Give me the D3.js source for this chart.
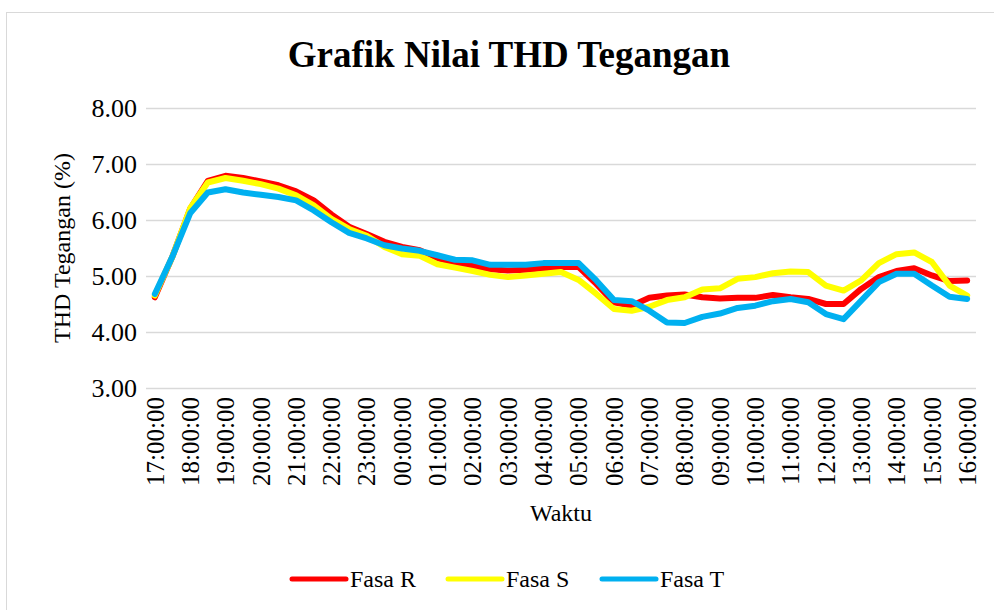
<!DOCTYPE html>
<html>
<head>
<meta charset="utf-8">
<script src="https://cdn.jsdelivr.net/npm/d3@7"></script>
<style>
body { margin:0; background:#fff; }
svg text { font-family: "Liberation Serif", "Times New Roman", serif; fill:#000; }
</style>
</head>
<body>
<svg id="chart" width="994" height="610"></svg>
<script>
var times = ["17:00:00","17:30:00","18:00:00","18:30:00","19:00:00","19:30:00","20:00:00","20:30:00",
	"21:00:00","21:30:00","22:00:00","22:30:00","23:00:00","23:30:00","00:00:00","00:30:00",
	"01:00:00","01:30:00","02:00:00","02:30:00","03:00:00","03:30:00","04:00:00","04:30:00",
	"05:00:00","05:30:00","06:00:00","06:30:00","07:00:00","07:30:00","08:00:00","08:30:00",
	"09:00:00","09:30:00","10:00:00","10:30:00","11:00:00","11:30:00","12:00:00","12:30:00",
	"13:00:00","13:30:00","14:00:00","14:30:00","15:00:00","15:30:00","16:00:00"];

var tickLabels = ["17:00:00","18:00:00","19:00:00","20:00:00","21:00:00","22:00:00","23:00:00","00:00:00",
	"01:00:00","02:00:00","03:00:00","04:00:00","05:00:00","06:00:00","07:00:00","08:00:00",
	"09:00:00","10:00:00","11:00:00","12:00:00","13:00:00","14:00:00","15:00:00","16:00:00"];

var yTicks = [3, 4, 5, 6, 7, 8];

var fasaR = [4.62,5.35,6.20,6.70,6.79,6.75,6.69,6.62,6.51,6.35,6.10,5.88,5.75,5.61,5.52,5.46,
	5.32,5.23,5.18,5.12,5.10,5.11,5.14,5.16,5.16,4.86,4.53,4.47,4.61,4.65,4.67,4.62,
	4.60,4.61,4.61,4.66,4.62,4.59,4.50,4.50,4.77,4.98,5.09,5.14,5.01,4.91,4.92];

var fasaS = [4.65,5.35,6.21,6.67,6.75,6.70,6.64,6.56,6.44,6.26,6.02,5.84,5.72,5.52,5.39,5.36,
	5.21,5.15,5.09,5.02,4.98,5.01,5.04,5.07,4.93,4.68,4.41,4.38,4.45,4.57,4.62,4.76,
	4.78,4.95,4.98,5.05,5.08,5.07,4.83,4.74,4.92,5.23,5.39,5.42,5.25,4.83,4.65];

var fasaT = [4.68,5.35,6.12,6.49,6.55,6.49,6.45,6.41,6.35,6.17,5.96,5.77,5.67,5.55,5.49,5.45,
	5.37,5.29,5.28,5.20,5.20,5.20,5.23,5.23,5.23,4.92,4.57,4.55,4.38,4.17,4.16,4.27,
	4.33,4.43,4.47,4.55,4.59,4.53,4.32,4.23,4.56,4.89,5.04,5.04,4.83,4.63,4.59];

var seriesNames = ["Fasa R","Fasa S","Fasa T"];
var seriesColors = ["#FF0000","#FFFF00","#00B0F0"];
var seriesData = [fasaR, fasaS, fasaT];

var width = 994, height = 610;
var plot = {left:146, right:976, top:108, bottom:388};
var serif = "'Liberation Serif', 'Times New Roman', serif";

var svg = d3.select("#chart");

// chart border
svg.append("rect")
	.attr("x",6.5)
	.attr("y",12.5)
	.attr("width",1000)
	.attr("height",620)
	.style("fill","#FFF")
	.style("stroke","#D9D9D9")
	.style("stroke-width",1);

var xScale = d3.scaleBand()
	.domain(times)
	.range([plot.left, plot.right]);

var yScale = d3.scaleLinear()
	.domain([3, 8])
	.range([plot.bottom, plot.top]);

function cx(t) { return xScale(t) + xScale.bandwidth() / 2; }

// gridlines
svg.append("g")
	.selectAll("line")
	.data(yTicks)
	.enter()
	.append("line")
	.attr("x1",plot.left)
	.attr("x2",plot.right)
	.attr("y1",function(d){ return Math.round(yScale(d)) + 0.5; })
	.attr("y2",function(d){ return Math.round(yScale(d)) + 0.5; })
	.style("stroke","#D9D9D9")
	.style("stroke-width",1.5);

// y labels
svg.append("g")
	.selectAll("text")
	.data(yTicks)
	.enter()
	.append("text")
	.attr("x",plot.left - 9)
	.attr("y",function(d){ return yScale(d); })
	.attr("dy","0.35em")
	.attr("text-anchor","end")
	.style("font-family",serif)
	.style("font-size","26px")
	.text(function(d){ return d.toFixed(2); });

// x labels
svg.append("g")
	.selectAll("text")
	.data(tickLabels)
	.enter()
	.append("text")
	.attr("transform",function(d){ return "translate(" + cx(d) + "," + (plot.bottom + 9) + ") rotate(-90)"; })
	.attr("dy","0.35em")
	.attr("text-anchor","end")
	.style("font-family",serif)
	.style("font-size","25px")
	.text(function(d){ return d; });

// lines
var line = d3.line()
	.x(function(d,i){ return cx(times[i]); })
	.y(function(d){ return yScale(d); });

svg.append("g")
	.selectAll("path")
	.data(seriesData)
	.enter()
	.append("path")
	.attr("d",function(d){ return line(d); })
	.style("fill","none")
	.style("stroke",function(d,i){ return seriesColors[i]; })
	.style("stroke-width",6)
	.style("stroke-linejoin","round")
	.style("stroke-linecap","round");

// title
svg.append("text")
	.attr("x",509)
	.attr("y",67)
	.attr("text-anchor","middle")
	.style("font-family",serif)
	.style("font-size","37px")
	.style("font-weight","bold")
	.text("Grafik Nilai THD Tegangan");

// axis titles
svg.append("text")
	.attr("transform","translate(62," + ((plot.top + plot.bottom) / 2) + ") rotate(-90)")
	.attr("dy","0.35em")
	.attr("text-anchor","middle")
	.style("font-family",serif)
	.style("font-size","24px")
	.text("THD Tegangan (%)");

svg.append("text")
	.attr("x",(plot.left + plot.right) / 2)
	.attr("y",521)
	.attr("text-anchor","middle")
	.style("font-family",serif)
	.style("font-size","24px")
	.text("Waktu");

// legend
var legendX = [292, 448, 602];
var legend = svg.append("g")
	.selectAll("g")
	.data(seriesNames)
	.enter()
	.append("g")
	.attr("transform",function(d,i){ return "translate(" + legendX[i] + ",579)"; });

legend.append("line")
	.attr("x1",0)
	.attr("x2",54)
	.attr("y1",0)
	.attr("y2",0)
	.style("stroke",function(d,i){ return seriesColors[i]; })
	.style("stroke-width",5)
	.style("stroke-linecap","round");

legend.append("text")
	.attr("x",58)
	.attr("y",0)
	.attr("dy","0.35em")
	.style("font-family",serif)
	.style("font-size","24px")
	.text(function(d){ return d; });
</script>
</body>
</html>
